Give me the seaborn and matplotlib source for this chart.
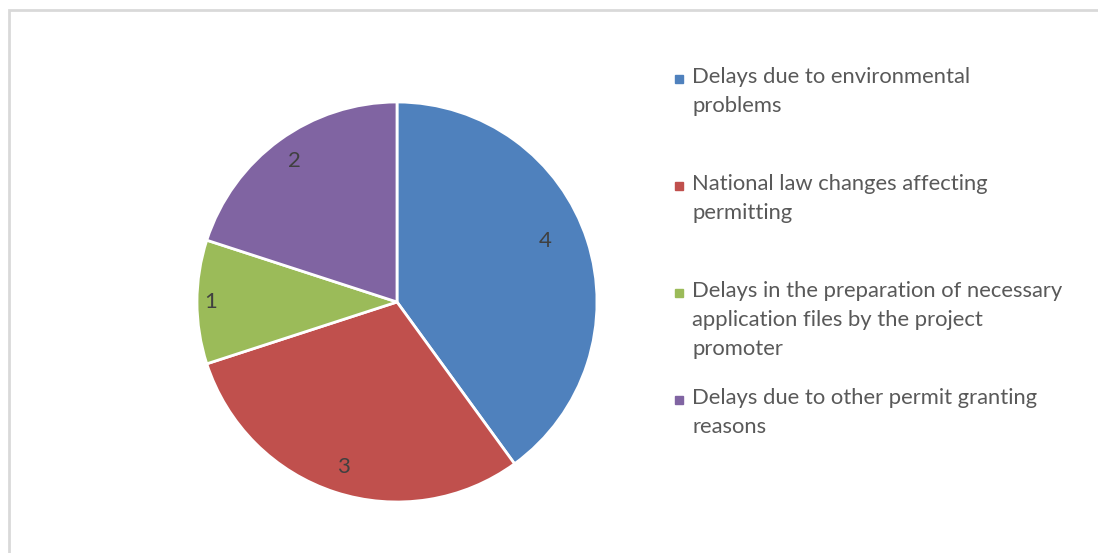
import numpy as np
import matplotlib.pyplot as plt
import seaborn as sns
from matplotlib.patches import Rectangle

sns.set_theme(style="white")
plt.rcParams['font.family'] = ['Lato', 'DejaVu Sans']

categories = ["Delays due to environmental\nproblems",
              "National law changes affecting\npermitting",
              "Delays in the preparation of necessary\napplication files by the project\npromoter",
              "Delays due to other permit granting\nreasons"]
values = [4, 3, 1, 2]
colors = ["#4F81BD", "#C0504D", "#9BBB59", "#8064A2"]

fig = plt.figure(figsize=(10.98, 5.53), dpi=100)

# chart border (Excel style)
fig.patches.append(Rectangle((9/1098, -0.1), 1.2, (553-10)/553 + 0.1, transform=fig.transFigure,
                             fill=False, edgecolor="#d9d9d9", linewidth=2))

ax = fig.add_axes([(397-201)/1098, (251-201)/553, 402/1098, 402/553])
wedges, _ = ax.pie(values, colors=colors, startangle=90, counterclock=False,
                   wedgeprops=dict(edgecolor="white", linewidth=2))
ax.set_xlim(-1.005, 1.005)
ax.set_ylim(-1.005, 1.005)
ax.axis("off")

# data labels inside the slices
label_r = [0.8, 0.87, 0.93, 0.87]
label_shift = [4.5, 0, 0, 0]
for w, v, r, s in zip(wedges, values, label_r, label_shift):
    ang = np.deg2rad((w.theta1 + w.theta2) / 2 + s)
    ax.text(r * np.cos(ang), r * np.sin(ang), str(v), ha="center", va="center",
            fontsize=16, color="#404040")

# legend, entries spread evenly like excel does
y_first = 1 - 67/553
step = 107/553
for i, (lab, col) in enumerate(zip(categories, colors)):
    y = y_first - i * step
    fig.text(692/1098, y, lab, ha="left", va="top", fontsize=15.8, color="#595959", linespacing=1.55)
    fig.patches.append(Rectangle((675/1098, y - 16/553), 8/1098, 8/553,
                                 transform=fig.transFigure, color=col))

fig.savefig("out.png", dpi=100)
